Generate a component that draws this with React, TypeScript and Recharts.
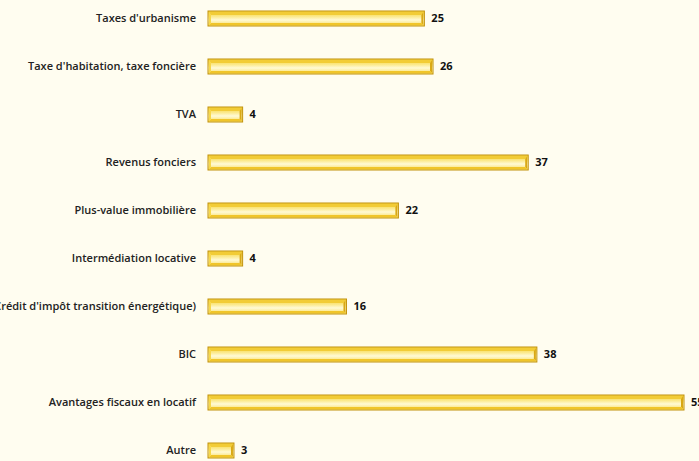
import { BarChart, Bar, XAxis, YAxis, LabelList } from 'recharts'

// Catégories et valeurs
const categories = [
  "Taxes d'urbanisme",
  "Taxe d'habitation, taxe foncière",
  'TVA',
  'Revenus fonciers',
  'Plus-value immobilière',
  'Intermédiation locative',
  "CITE (Crédit d'impôt transition énergétique)",
  'BIC',
  'Avantages fiscaux en locatif',
  'Autre',
]
const counts = [25, 26, 4, 37, 22, 4, 16, 38, 55, 3]

const data = categories.map((name, i) => ({ name, count: counts[i] }))

function GoldBar(props: any) {
  const { x, y, width, height } = props
  if (!width || width <= 0) return null
  const b = 3
  return (
    <g>
      <rect x={x} y={y} width={width} height={height} fill="url(#goldGrad)" stroke="#c2920a" strokeWidth={1} />
      {/* bevel */}
      <polygon
        points={`${x + 1},${y + 1} ${x + width - 1},${y + 1} ${x + width - b},${y + b + 1} ${x + b},${y + b + 1}`}
        fill="#f2cc36"
      />
      <polygon
        points={`${x + width - 1},${y + 1} ${x + width - 1},${y + height - 1} ${x + width - b},${y + height - b} ${x + width - b},${y + b + 1}`}
        fill="#d9a815"
      />
      <polygon
        points={`${x + 1},${y + height - 1} ${x + width - 1},${y + height - 1} ${x + width - b},${y + height - b} ${x + b},${y + height - b}`}
        fill="#f0c52a"
      />
      <polygon
        points={`${x + 1},${y + 1} ${x + b},${y + b + 1} ${x + b},${y + height - b} ${x + 1},${y + height - 1}`}
        fill="#f7d84a"
      />
    </g>
  )
}

export default function App() {
  return (
    <div
      style={{
        position: 'fixed',
        left: 0,
        top: 0,
        width: 699,
        height: 461,
        overflow: 'hidden',
        background: '#fffdf0',
      }}
    >
      <div style={{ position: 'absolute', left: -150, top: -6 }}>
        <BarChart
          width={880}
          height={480}
          data={data}
          layout="vertical"
          margin={{ top: 0, right: 46, bottom: 0, left: 0 }}
        >
          <defs>
            <linearGradient id="goldGrad" x1="0" y1="0" x2="0" y2="1">
              <stop offset="0%" stopColor="#f5d23e" />
              <stop offset="35%" stopColor="#fbe887" />
              <stop offset="60%" stopColor="#fffad6" />
              <stop offset="100%" stopColor="#f8dc5c" />
            </linearGradient>
          </defs>
          <XAxis type="number" domain={[0, 55]} hide />
          <YAxis
            type="category"
            dataKey="name"
            width={358}
            axisLine={false}
            tickLine={false}
            tickSize={0}
            tickMargin={12}
            interval={0}
            tick={{ fontSize: 11, fill: '#222', fontFamily: 'Open Sans', fontWeight: 600 }}
          />
          <Bar dataKey="count" barSize={15} shape={<GoldBar />} isAnimationActive={false}>
            <LabelList
              dataKey="count"
              position="right"
              offset={7}
              style={{ fontSize: 11, fill: '#111', fontFamily: 'Open Sans', fontWeight: 700 }}
            />
          </Bar>
        </BarChart>
      </div>
    </div>
  )
}
